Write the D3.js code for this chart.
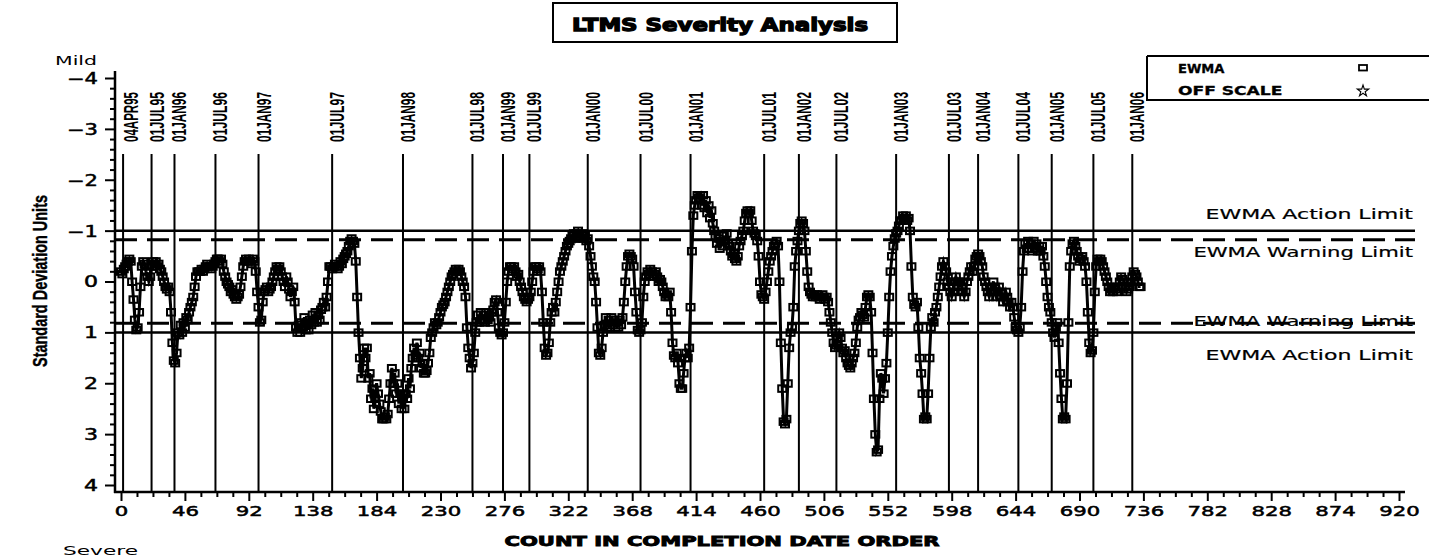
<!DOCTYPE html>
<html><head><meta charset="utf-8">
<script src="https://cdn.jsdelivr.net/npm/d3@7/dist/d3.min.js"></script>
<style>body{margin:0;background:#fff}svg{display:block}</style>
</head><body><svg id="c" width="1429" height="558"></svg>
<script>
// ---- data ----
const ewma = [
-0.2,-0.15,-0.25,-0.3,-0.35,-0.4,-0.45,-0.4,0.0,0.35,0.75,0.95,
0.9,0.6,
0.1,-0.3,-0.4,-0.35,
-0.2,-0.1,0.0,-0.1,-0.3,-0.4,-0.35,-0.4,-0.3,-0.35,-0.25,
-0.2,-0.1,0.0,0.1,0.15,0.1,0.2,
0.6,1.2,1.55,1.6,
1.4,1.0,1.05,0.85,1.0,0.8,0.9,0.7,0.75,0.6,
0.5,0.4,0.3,0.1,-0.1,-0.2,-0.2,
-0.2,-0.25,-0.2,-0.25,-0.3,-0.35,-0.3,-0.3,-0.25,-0.3,-0.35,
-0.4,-0.45,-0.45,-0.4,-0.45,-0.35,-0.2,-0.1,0.0,
0.05,0.1,0.2,0.15,0.25,0.3,0.35,0.3,0.25,0.1,
-0.1,-0.3,-0.4,-0.45,-0.4,-0.45,-0.4,-0.35,-0.45,-0.4,-0.2,
0.2,0.5,0.8,0.75,0.4,
0.2,0.15,0.1,0.2,0.15,0.1,0.0,-0.1,
-0.2,-0.3,-0.25,-0.3,-0.2,-0.1,0.0,0.1,-0.1,0.0,
0.15,0.3,0.2,0.1,0.4,
0.9,1.0,0.85,1.0,0.8,0.9,0.7,0.95,0.8,0.95,0.75,
0.85,0.65,0.8,0.6,0.8,0.65,0.75,
0.55,0.5,0.4,0.5,0.3,0.0,-0.3,
-0.3,-0.25,-0.3,-0.35,-0.3,-0.25,-0.3,-0.4,-0.35,-0.45,-0.5,-0.55,-0.6,-0.7,
-0.8,-0.85,-0.8,-0.75,-0.4,
0.3,1.0,1.5,1.9,
1.7,1.3,1.5,1.3,1.9,1.8,2.3,2.1,2.5,
2.3,2.0,2.2,2.4,
2.55,2.7,2.7,2.65,2.7,2.6,2.3,
2.0,1.7,2.0,1.8,2.2,2.0,
2.4,2.2,2.5,2.3,2.5,2.2,2.3,1.9,2.1,1.7,
1.5,1.3,1.45,1.2,1.5,1.4,1.7,1.6,1.8,
1.8,1.75,1.6,1.4,1.1,
1.0,0.9,0.8,0.85,0.8,0.7,
0.6,0.5,0.45,0.4,0.3,0.2,0.1,
0.0,-0.1,-0.15,-0.2,-0.25,-0.2,-0.25,-0.2,-0.1,0.0,0.1,0.3,
0.9,1.3,1.5,1.7,1.6,1.4,
1.0,0.8,0.65,0.8,0.6,0.75,0.65,0.8,0.6,0.75,0.7,0.8,0.6,0.55,
0.4,0.35,0.6,0.9,
1.0,1.05,1.0,0.8,0.4,0.0,
-0.2,-0.3,-0.3,-0.25,-0.3,-0.2,-0.1,-0.15,0.0,0.1,0.2,0.3,
0.35,0.4,0.35,0.3,0.2,0.0,-0.2,-0.3,
-0.3,-0.25,-0.3,-0.2,0.2,0.8,
1.3,1.45,1.4,1.2,0.8,
0.6,0.5,0.6,0.4,0.2,0.0,-0.2,
-0.3,-0.4,-0.5,-0.6,-0.7,-0.75,-0.8,
-0.85,-0.9,-0.95,-0.85,-0.95,-1.0,-0.9,-0.85,-0.95,-0.85,-0.9,-0.8,-0.85,-0.7,-0.5,
-0.3,-0.1,0.0,0.4,
0.9,1.4,1.45,1.3,1.0,
0.85,0.7,0.9,0.75,0.9,0.7,0.85,0.75,0.9,0.8,0.9,0.75,0.85,0.7,0.4,
0.0,-0.3,-0.5,-0.55,-0.5,-0.45,-0.3,
0.2,0.6,0.95,1.0,0.95,0.8,
0.3,0.0,-0.1,-0.2,-0.15,-0.25,-0.2,-0.1,-0.15,-0.2,-0.1,0.0,-0.05,
0.0,0.1,0.2,0.3,0.25,0.3,0.2,0.6,
1.2,1.45,1.5,1.4,1.6,
2.0,2.1,2.1,1.8,
1.5,1.4,1.5,1.3,
0.5,-0.6,-1.3,-1.5,-1.6,-1.7,-1.65,
-1.7,-1.5,-1.7,-1.45,-1.6,-1.35,-1.5,-1.25,-1.4,-1.15,-1.0,
-0.9,-0.75,-0.85,-0.65,-0.8,-0.7,-0.9,-0.8,-0.95,-0.75,-0.7,
-0.6,-0.5,-0.55,-0.45,-0.4,-0.5,-0.7,-0.8,-0.9,-1.0,
-1.2,-1.35,-1.4,-1.35,-1.4,-1.2,
-1.0,-0.95,-0.9,-0.8,-0.5,0.0,
0.25,0.3,0.35,0.2,0.0,
-0.2,-0.4,-0.5,-0.6,-0.7,-0.75,-0.8,
-0.7,0.0,1.2,2.1,2.75,2.8,2.7,
2.0,1.3,1.0,0.9,0.5,
-0.3,-0.6,-0.8,-1.0,-1.15,
-1.2,-1.15,-1.0,-0.6,
-0.2,0.1,0.2,0.25,0.3,
0.25,0.3,0.25,0.3,0.35,0.3,0.25,0.3,0.35,0.3,0.4,0.6,
0.8,1.0,1.2,1.3,1.25,1.1,1.0,
1.1,1.3,1.4,1.35,1.5,1.6,1.65,
1.7,1.6,1.5,1.4,1.2,0.9,
0.75,0.7,0.6,0.65,0.7,0.5,0.3,
0.25,0.3,0.6,
1.4,2.3,3.0,3.35,3.3,
2.3,1.8,1.9,2.2,1.9,1.6,
1.0,0.3,-0.2,-0.5,-0.7,
-0.85,-0.95,-1.0,-1.1,-1.2,
-1.2,-1.3,-1.25,-1.3,-1.2,-1.25,-1.0,
-0.3,0.3,0.45,0.5,0.4,
0.9,1.5,1.8,2.2,2.7,2.65,2.7,2.2,1.5,
0.9,0.7,0.8,0.6,0.5,0.3,0.1,
-0.1,-0.3,-0.4,-0.3,-0.2,0.0,0.1,0.2,0.3,0.2,0.0,-0.1,0.0,0.1,
0.0,0.1,0.2,0.3,0.2,0.0,-0.1,-0.2,-0.3,-0.2,-0.3,
-0.45,-0.5,-0.55,-0.5,-0.4,-0.3,-0.1,0.0,
0.1,0.2,0.3,0.2,0.1,0.0,0.2,0.3,0.2,0.1,
0.2,0.3,0.4,0.3,0.2,0.3,0.4,0.5,0.4,0.5,0.7,
0.9,0.95,1.0,0.9,0.5,
-0.2,-0.6,-0.75,-0.65,-0.8,-0.65,-0.75,-0.6,-0.8,-0.65,-0.75,-0.6,-0.7,-0.6,-0.7,-0.5,-0.3,
0.0,0.3,0.5,0.6,0.8,1.0,1.1,0.9,0.8,1.2,
1.8,2.3,2.7,2.65,2.7,2.0,
0.8,-0.3,-0.6,-0.75,-0.8,-0.7,-0.6,
-0.5,-0.4,-0.45,-0.5,-0.4,-0.3,0.0,0.6,
1.2,1.4,1.35,1.0,
0.2,-0.3,-0.45,-0.4,-0.45,-0.4,-0.3,-0.2,-0.1,0.0,0.1,0.2,
0.15,0.2,0.1,0.15,0.2,0.1,0.0,-0.1,-0.05,0.0,0.1,0.2,0.15,0.1,
0.0,-0.1,-0.2,-0.15,-0.1,0.0,0.1,0.1
];
const dateLabels = ["04APR95","01JUL95","01JAN96","01JUL96","01JAN97","01JUL97","01JAN98","01JUL98","01JAN99","01JUL99","01JAN00","01JUL00","01JAN01","01JUL01","01JAN02","01JUL02","01JAN03","01JUL03","01JAN04","01JUL04","01JAN05","01JUL05","01JAN06"];
const dateCounts = [1.5,22,38.5,68,99,152,203,253,275,294,336,374,410,463,488,515,558,596,617,646,670,700,728];
const xTickValues = d3.range(0, 921, 46);
const yTickValues = [-4,-3,-2,-1,0,1,2,3,4];
const actionLimits = [-1, 1];
const warningLimits = [-0.82, 0.82];
const limitLabels = [
  {v:-1, text:"EWMA Action Limit", pos:"above"},
  {v:-0.82, text:"EWMA Warning Limit", pos:"below"},
  {v:0.82, text:"EWMA Warning Limit", pos:"on"},
  {v:1, text:"EWMA Action Limit", pos:"below"}
];
const legendItems = [{label:"EWMA", sym:"square"},{label:"OFF SCALE", sym:"star"}];

// ---- drawing ----
const svg = d3.select("#c");
const x = d3.scaleLinear().domain([0,920]).range([121,1399]);
const y = d3.scaleLinear().domain([-4,4]).range([78,485]);
const axisX = 115, axisY = 492;
const wideFont = "'DejaVu Sans', Verdana, sans-serif";
const narrowFont = "'Liberation Sans', Arial, sans-serif";

// title box
svg.append("rect").attr("x",553).attr("y",3).attr("width",344).attr("height",39)
  .attr("fill","none").attr("stroke","#000").attr("stroke-width",2);
svg.append("text").attr("x",720).attr("y",31).attr("text-anchor","middle")
  .attr("font-family",wideFont).attr("font-weight","bold").attr("font-size",18)
  .attr("textLength",296).attr("lengthAdjust","spacingAndGlyphs")
  .attr("stroke","#000").attr("stroke-width",1.3)
  .text("LTMS Severity Analysis");

// legend
svg.append("line").attr("x1",1147).attr("x2",1429).attr("y1",56).attr("y2",56).attr("stroke","#000").attr("stroke-width",2);
svg.append("line").attr("x1",1147).attr("x2",1429).attr("y1",100).attr("y2",100).attr("stroke","#000").attr("stroke-width",2);
svg.append("line").attr("x1",1147).attr("x2",1147).attr("y1",56).attr("y2",101).attr("stroke","#000").attr("stroke-width",2);
const lg = svg.append("g");
legendItems.forEach((d,i)=>{
  const yy = 73 + i*22;
  lg.append("text").attr("x",1178).attr("y",yy).attr("font-family",wideFont).attr("font-weight","bold")
    .attr("font-size",11.5).attr("stroke","#000").attr("stroke-width",0.3)
    .attr("textLength", d.label.length*11.6).attr("lengthAdjust","spacingAndGlyphs").text(d.label);
  if(d.sym==="square"){
    lg.append("rect").attr("x",1359).attr("y",yy-8).attr("width",8).attr("height",5.5)
      .attr("fill","none").attr("stroke","#000").attr("stroke-width",1.8);
  } else {
    lg.append("path").attr("d",d3.symbol(d3.symbolStar,40)()).attr("transform",`translate(1363,${yy-4})`)
      .attr("fill","none").attr("stroke","#000").attr("stroke-width",1.1);
  }
});

// Mild / Severe
svg.append("text").attr("x",55).attr("y",65).attr("font-family",wideFont).attr("font-size",13)
  .attr("textLength",42).attr("lengthAdjust","spacingAndGlyphs").text("Mild");
svg.append("text").attr("x",63).attr("y",555).attr("font-family",wideFont).attr("font-size",13)
  .attr("textLength",75).attr("lengthAdjust","spacingAndGlyphs").text("Severe");

// y axis
const yAxis = d3.axisLeft(y).tickValues(yTickValues).tickSize(10).tickFormat(d=> d<0 ? "\u2212"+Math.abs(d) : String(d));
const gy = svg.append("g").attr("transform",`translate(${axisX},0)`).call(yAxis);
gy.select(".domain").remove();
gy.selectAll(".tick line").attr("stroke","#000").attr("stroke-width",2);
gy.selectAll(".tick text").attr("x",-17).attr("dy","0.36em").attr("font-family",wideFont).attr("font-size",15)
  .attr("fill","#000").attr("stroke","#000").attr("stroke-width",0.5)
  .each(function(d){ d3.select(this).attr("textLength", d<0?31:14).attr("lengthAdjust","spacingAndGlyphs"); });
const yMinor = d3.range(-40,41,2).filter(v=>v%10!==0).map(v=>v/10);
const gym = svg.append("g").attr("transform",`translate(${axisX},0)`)
  .call(d3.axisLeft(y).tickValues(yMinor).tickSize(5).tickFormat(""));
gym.select(".domain").remove();
gym.selectAll(".tick line").attr("stroke","#000").attr("stroke-width",2);
svg.append("line").attr("x1",axisX).attr("x2",axisX).attr("y1",71).attr("y2",axisY+1).attr("stroke","#000").attr("stroke-width",2.5);

// x axis
const xAxis = d3.axisBottom(x).tickValues(xTickValues).tickSize(9);
const gx = svg.append("g").attr("transform",`translate(0,${axisY})`).call(xAxis);
gx.select(".domain").remove();
gx.selectAll(".tick line").attr("stroke","#000").attr("stroke-width",2);
gx.selectAll(".tick text").attr("y",14).attr("dy","0.71em").attr("font-family",wideFont).attr("font-size",14)
  .attr("fill","#000").attr("stroke","#000").attr("stroke-width",0.5)
  .each(function(d){ const n=String(d).length; d3.select(this).attr("textLength", n*13.5).attr("lengthAdjust","spacingAndGlyphs"); });
const xMinor = d3.range(0, 921, 11.5).filter((v,i)=>i%4!==0);
const gxm = svg.append("g").attr("transform",`translate(0,${axisY})`)
  .call(d3.axisBottom(x).tickValues(xMinor).tickSize(5).tickFormat(""));
gxm.select(".domain").remove();
gxm.selectAll(".tick line").attr("stroke","#000").attr("stroke-width",2);
svg.append("line").attr("x1",axisX-1).attr("x2",1405).attr("y1",axisY).attr("y2",axisY).attr("stroke","#000").attr("stroke-width",2.5);

// axis titles
svg.append("text").attr("x",722).attr("y",546).attr("text-anchor","middle").attr("font-family",wideFont)
  .attr("font-weight","bold").attr("font-size",14).attr("textLength",435).attr("lengthAdjust","spacingAndGlyphs")
  .attr("stroke","#000").attr("stroke-width",0.9).text("COUNT IN COMPLETION DATE ORDER");
svg.append("text").attr("transform","translate(47,281) rotate(-90)").attr("text-anchor","middle")
  .attr("font-family",narrowFont).attr("font-weight","bold").attr("font-size",20)
  .attr("stroke","#000").attr("stroke-width",0.4)
  .attr("textLength",172).attr("lengthAdjust","spacingAndGlyphs").text("Standard Deviation Units");

// limit lines
actionLimits.forEach(v=>{
  svg.append("line").attr("x1",axisX).attr("x2",1415).attr("y1",y(v)).attr("y2",y(v)).attr("stroke","#000").attr("stroke-width",2.5);
});
warningLimits.forEach(v=>{
  svg.append("line").attr("x1",axisX).attr("x2",1415).attr("y1",y(v)).attr("y2",y(v)).attr("stroke","#000").attr("stroke-width",3)
    .attr("stroke-dasharray","22,10");
});
limitLabels.forEach(d=>{
  const off = d.pos==="above" ? -12 : d.pos==="below" ? (d.v<0 ? 17 : 28) : 3;
  svg.append("text").attr("x",1413).attr("y",y(d.v)+off).attr("text-anchor","end").attr("font-family",wideFont)
    .attr("font-size",13.5).attr("stroke","#000").attr("stroke-width",0.2)
    .attr("textLength", d.text.length*12.2).attr("lengthAdjust","spacingAndGlyphs").text(d.text);
});

// date reference lines
const gd = svg.append("g");
dateCounts.forEach((c,i)=>{
  const xx = x(c);
  gd.append("line").attr("x1",xx).attr("x2",xx).attr("y1",154).attr("y2",axisY).attr("stroke","#000").attr("stroke-width",2);
  const lx = i===0 ? xx+15 : xx+12;
  gd.append("text").attr("transform",`translate(${lx},142) rotate(-90)`).attr("font-family",narrowFont)
    .attr("font-weight","bold").attr("font-size",21).attr("textLength",50).attr("lengthAdjust","spacingAndGlyphs")
    .text(dateLabels[i]);
});

// EWMA series
const line = d3.line().x((d,i)=>x(i)).y(d=>y(d));
svg.append("path").datum(ewma).attr("d",line).attr("fill","none").attr("stroke","#000").attr("stroke-width",3);
svg.append("g").selectAll("rect").data(ewma).join("rect")
  .attr("x",(d,i)=>x(i)-4).attr("y",d=>y(d)-3).attr("width",8).attr("height",6.5)
  .attr("fill","none").attr("stroke","#000").attr("stroke-width",2);
</script></body></html>
